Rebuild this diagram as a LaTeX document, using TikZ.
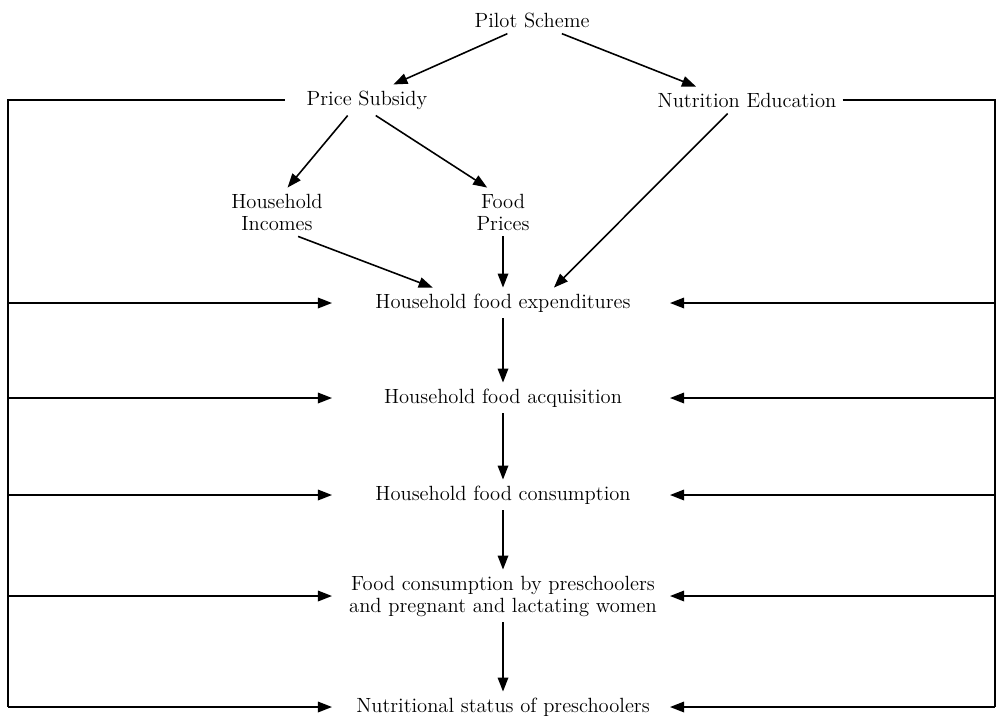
\documentclass[tikz,border=0pt]{standalone}
\usepackage{tikz}
\usetikzlibrary{positioning, arrows.meta}

\begin{document}
\begin{tikzpicture}[x=0.02cm, y=-0.02cm,
            tx/.style={align=center, font=\fontsize{11.7}{12.5}\selectfont},
            ar/.style={-{Triangle[length=8pt, width=6pt]}, line width=0.9pt},
            ln/.style={line width=0.9pt}]
          \useasboundingbox (0,0) rectangle (1000,717);
          \node[tx] (pilot) at (532,20) {Pilot Scheme};
          \node[tx] (ps) at (367,100) {Price Subsidy};
          \node[tx] (ne) at (747,100) {Nutrition Education};
          \node[tx] (hi) at (277,212) {Household\\Incomes};
          \node[tx] (fp) at (503,212) {Food\\Prices};
          \node[tx] (hfe) at (503,303) {Household food expenditures};
          \node[tx] (hfa) at (503,398) {Household food acquisition};
          \node[tx] (hfc) at (503,495) {Household food consumption};
          \node[tx] (fcp) at (503,596) {Food consumption by preschoolers\\and pregnant and lactating women};
          \node[tx] (nsp) at (503,707) {Nutritional status of preschoolers};
          \coordinate (lbar) at (8,0);
          \coordinate (rbar) at (995,0);
          \coordinate (ltip) at (332,0);
          \coordinate (rtip) at (670,0);
          \draw [ar] ([xshift=-14pt]pilot.south) to ([xshift=15pt]ps.north);
          \draw [ar] ([xshift=17pt]pilot.south) to ([xshift=-29pt]ne.north);
          \draw [ar] ([xshift=-11pt]ps.south) to ([xshift=6pt]hi.north);
          \draw [ar] ([xshift=5pt]ps.south) to ([xshift=-9pt]fp.north);
          \draw [ar] ([xshift=-11pt]ne.south) to ([xshift=29pt]hfe.north);
          \draw [ar] ([xshift=12pt]hi.south) to ([xshift=-40pt]hfe.north);
          \draw [ar] (fp) to (hfe);
          \draw [ar] (hfe) to (hfa);
          \draw [ar] (hfa) to (hfc);
          \draw [ar] (hfc) to (fcp);
          \draw [ar] (fcp) to (nsp);
          \draw [ln] ([xshift=-9pt]ps.west) -- (ps.west -| lbar) -- (nsp -| lbar);
          \draw [ln] (ne.east) -- (ne.east -| rbar) -- (nsp -| rbar);
          \foreach \n in {hfe, hfa, hfc, fcp, nsp} {
            \draw [ar] (\n -| lbar) to (\n -| ltip);
            \draw [ar] (\n -| rbar) to (\n -| rtip);
          }
        \end{tikzpicture}
\end{document}
